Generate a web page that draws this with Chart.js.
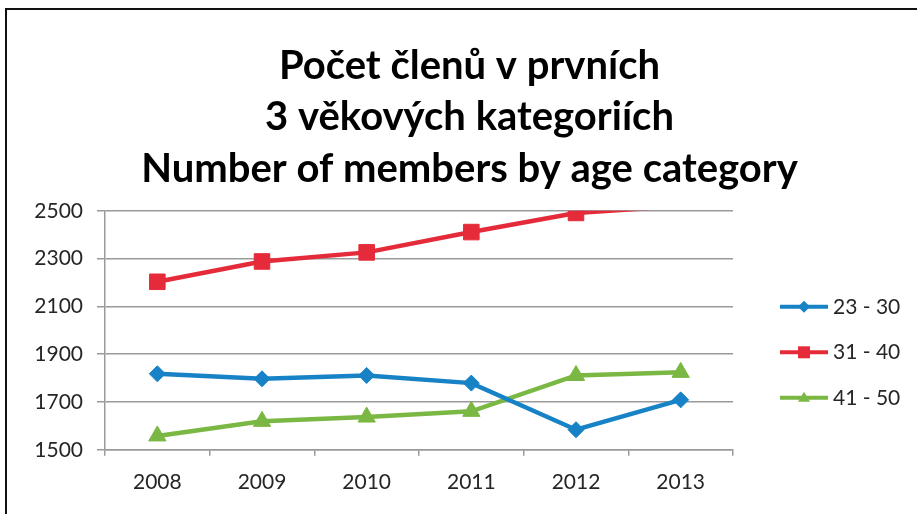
<!DOCTYPE html>
<html>
<head>
<meta charset="utf-8">
<script src="https://cdn.jsdelivr.net/npm/chart.js@4.4.1/dist/chart.umd.min.js"></script>
<style>
  html, body { margin: 0; padding: 0; background: #fff; }
  #ramecek {
    position: absolute; left: 5px; top: 8px; width: 930px; height: 530px;
    border-left: 2px solid #111; border-top: 2px solid #111;
  }
  #obal { position: absolute; left: 0; top: 0; width: 917px; height: 514px; }
</style>
</head>
<body>
<div id="ramecek"></div>
<div id="obal"><canvas id="graf"></canvas></div>
<script>
// data
const roky = ['2008', '2009', '2010', '2011', '2012', '2013'];
const skupiny = ['23 - 30', '31 - 40', '41 - 50'];
const clenove2330 = [1818, 1797, 1811, 1779, 1584, 1709];
const clenove3140 = [2203, 2288, 2326, 2411, 2491, 2520];
const clenove4150 = [1558, 1619, 1637, 1661, 1811, 1824];
const barvy = ['#1783c6', '#e52b3a', '#7ab843'];
const znacky = ['rectRot', 'rect', 'triangle'];
const velikosti = [8, 11, 10];
const titulek = ['Počet členů v prvních', '3 věkových kategoriích', 'Number of members by age category'];

const osaMin = 1500;
const osaMax = 2500;
const pismo = 'Lato, "Open Sans", sans-serif';

function udelejSadu(i, hodnoty) {
  // body mimo rozsah osy se nekreslí (jako v Excelu)
  const polomer = (c) => (c.raw > osaMax || c.raw < osaMin) ? 0 : velikosti[i];
  return {
    label: skupiny[i],
    data: hodnoty,
    borderColor: barvy[i],
    backgroundColor: barvy[i],
    borderWidth: 4.5,
    tension: 0,
    pointStyle: znacky[i],
    pointRadius: polomer,
    pointHoverRadius: polomer,
    pointBorderWidth: 1,
    pointBackgroundColor: barvy[i],
    pointBorderColor: barvy[i],
    clip: 0
  };
}

// legenda vpravo: čára + značka + text
const legendaVpravo = {
  id: 'legendaVpravo',
  afterDraw(chart) {
    const ctx = chart.ctx;
    const a = chart.chartArea;
    const x0 = a.right + 47;
    const stred = (a.top + a.bottom) / 2 + 22;
    const krok = 45.5;
    ctx.save();
    chart.data.datasets.forEach((ds, i) => {
      const y = stred + (i - 1) * krok;
      ctx.strokeStyle = ds.borderColor;
      ctx.fillStyle = ds.borderColor;
      ctx.lineWidth = 4;
      ctx.beginPath();
      ctx.moveTo(x0, y);
      ctx.lineTo(x0 + 48, y);
      ctx.stroke();
      const cx = x0 + 24;
      ctx.beginPath();
      if (ds.pointStyle === 'rectRot') {
        ctx.moveTo(cx, y - 6); ctx.lineTo(cx + 6, y); ctx.lineTo(cx, y + 6); ctx.lineTo(cx - 6, y);
      } else if (ds.pointStyle === 'rect') {
        ctx.rect(cx - 6, y - 6, 12, 12);
      } else {
        ctx.moveTo(cx, y - 6); ctx.lineTo(cx + 6, y + 4); ctx.lineTo(cx - 6, y + 4);
      }
      ctx.closePath();
      ctx.fill();
      ctx.fillStyle = '#262626';
      ctx.font = '21px ' + pismo;
      ctx.textBaseline = 'middle';
      ctx.textAlign = 'left';
      ctx.fillText(ds.label, x0 + 53, y);
    });
    ctx.restore();
  }
};

new Chart(document.getElementById('graf'), {
  type: 'line',
  data: {
    labels: roky,
    datasets: [
      udelejSadu(0, clenove2330),
      udelejSadu(1, clenove3140),
      udelejSadu(2, clenove4150)
    ]
  },
  options: {
    responsive: true,
    maintainAspectRatio: false,
    animation: false,
    events: [],
    layout: { padding: { left: 22, right: 0, top: 0, bottom: 5 } },
    plugins: {
      legend: { display: false },
      tooltip: { enabled: false },
      title: {
        display: true,
        text: titulek,
        color: '#000',
        font: { family: pismo, size: 40, weight: 'bold', lineHeight: 1.29 },
        padding: { top: 40, bottom: 16 }
      }
    },
    scales: {
      x: {
        offset: true,
        grid: { display: true, drawOnChartArea: false, drawTicks: true, tickLength: 6, offset: true, color: '#9a9a9a', lineWidth: 1.5 },
        border: { display: true, color: '#9a9a9a', width: 1.5 },
        ticks: { color: '#262626', font: { family: pismo, size: 21 }, padding: 14, maxRotation: 0 }
      },
      y: {
        min: osaMin,
        max: osaMax,
        afterFit(skala) { skala.width = 83; },
        ticks: {
          stepSize: 200,
          color: '#262626',
          font: { family: pismo, size: 21 },
          padding: 14,
          callback: (v) => String(v)
        },
        grid: { color: '#9a9a9a', lineWidth: 1.5, tickLength: 8 },
        border: { display: true, color: '#9a9a9a', width: 1.5 }
      },
      misto: {
        type: 'linear',
        position: 'right',
        display: true,
        afterFit(skala) { skala.width = 184; },
        ticks: { display: false },
        grid: { display: false },
        border: { display: false }
      }
    }
  },
  plugins: [legendaVpravo]
});
</script>
</body>
</html>
